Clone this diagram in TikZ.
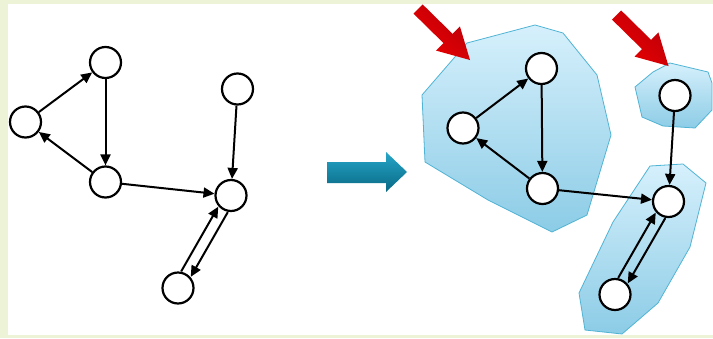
\documentclass[tikz,border=0pt]{standalone}
\usetikzlibrary{arrows.meta,calc}
\definecolor{bggreen}{RGB}{236,243,214}
\definecolor{blobtop}{RGB}{214,240,252}
\definecolor{blobbot}{RGB}{140,204,230}
\definecolor{blobline}{RGB}{80,180,212}
\definecolor{tealtop}{RGB}{38,166,200}
\definecolor{tealbot}{RGB}{8,104,132}
\definecolor{redlight}{RGB}{235,0,0}
\definecolor{reddark}{RGB}{185,0,10}
\tikzset{
  vert/.style={circle, draw=black, fill=white, line width=2.2pt, minimum size=31pt, inner sep=0pt},
  conn/.style={line width=2pt, -{Triangle[length=11pt,width=10pt]}},
  blob/.style={draw=blobline, line width=0.8pt, top color=blobtop, bottom color=blobbot},
  redarrow/.style={left color=reddark, right color=redlight, shading angle=-45}
}
\begin{document}
\begin{tikzpicture}[x=1pt,y=-1pt]
\useasboundingbox (0,0) rectangle (713,338);
\fill[bggreen] (0,0) rectangle (713,338);
\fill[white] (8,4) rectangle (713,335);

% blobs
\path[blob] (422,95) -- (467,43) -- (535,25) -- (563,33) -- (597,75) -- (611,135) -- (587,215) -- (552,232) -- (488,200) -- (425,162) -- cycle;
\path[blob] (635,87) -- (653,72) -- (670,63) -- (708,72) -- (712,83) -- (712,110) -- (695,128) -- (663,126) -- (642,117) -- cycle;
\path[blob] (579,293) -- (613,222) -- (650,166) -- (683,164) -- (706,183) -- (690,247) -- (658,303) -- (622,334) -- (585,330) -- cycle;

% red arrows
\foreach \sx/\sy in {418/9, 616.5/15}{
  \shade[redarrow, shift={(\sx,\sy)}] (4.6,-4.6) -- (34.6,24.9) -- (41.9,17.4) -- (52,51) -- (18.1,41.6) -- (25.5,34.1) -- (-4.5,4.6) -- cycle;
}

% blue arrow
\shade[top color=tealtop, bottom color=tealbot] (327,162) -- (386,162) -- (386,152) -- (407,172) -- (386,192) -- (386,183) -- (327,183) -- cycle;

% left graph
\node[vert] (a) at (105.5,62.5) {};
\node[vert] (b) at (25.5,122) {};
\node[vert] (c) at (105.5,182) {};
\node[vert] (d) at (237.5,89) {};
\node[vert] (e) at (231,195.5) {};
\node[vert] (f) at (178,288) {};
\draw[conn] (b) -- (a);
\draw[conn] (a) -- (c);
\draw[conn] (c) -- (b);
\draw[conn] (c) -- (e);
\draw[conn] (d) -- (e);
\draw[conn, shorten <=16pt, shorten >=16pt] ($(f)!5.5pt!90:(e)$) -- ($(e)!5.5pt!-90:(f)$);
\draw[conn, shorten <=16pt, shorten >=16pt] ($(e)!5.5pt!90:(f)$) -- ($(f)!5.5pt!-90:(e)$);

% right graph
\node[vert] (a2) at (541.5,68.5) {};
\node[vert] (b2) at (463,128) {};
\node[vert] (c2) at (542.5,188.5) {};
\node[vert] (d2) at (675,95.5) {};
\node[vert] (e2) at (668.5,201.5) {};
\node[vert] (f2) at (615,294.5) {};
\draw[conn] (b2) -- (a2);
\draw[conn] (a2) -- (c2);
\draw[conn] (c2) -- (b2);
\draw[conn] (c2) -- (e2);
\draw[conn] (d2) -- (e2);
\draw[conn, shorten <=16pt, shorten >=16pt] ($(f2)!5.5pt!90:(e2)$) -- ($(e2)!5.5pt!-90:(f2)$);
\draw[conn, shorten <=16pt, shorten >=16pt] ($(e2)!5.5pt!90:(f2)$) -- ($(f2)!5.5pt!-90:(e2)$);
\end{tikzpicture}
\end{document}
